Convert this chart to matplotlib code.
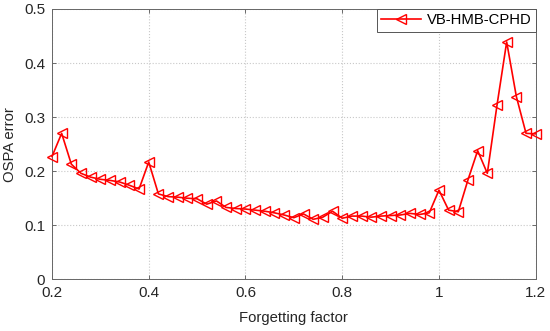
import matplotlib
matplotlib.use("Agg")
import matplotlib.pyplot as plt
import numpy as np

# Forgetting factor 0.20 ... 1.20, step 0.02
forgetting = np.round(np.arange(0.20, 1.2001, 0.02), 2)
ospa = [
    0.227, 0.270, 0.213, 0.196, 0.189, 0.185, 0.183, 0.180, 0.174, 0.167,
    0.217, 0.158, 0.153, 0.152, 0.150, 0.149, 0.139, 0.145, 0.133, 0.131,
    0.130, 0.128, 0.126, 0.123, 0.119, 0.114, 0.121, 0.111, 0.115, 0.126,
    0.113, 0.117, 0.117, 0.115, 0.117, 0.118, 0.119, 0.122, 0.120, 0.123,
    0.165, 0.128, 0.125, 0.184, 0.238, 0.196, 0.322, 0.439, 0.338, 0.270,
    0.269,
]
xticks = [0.2, 0.4, 0.6, 0.8, 1.0, 1.2]
xticklabels = ["0.2", "0.4", "0.6", "0.8", "1", "1.2"]
yticks = [0, 0.1, 0.2, 0.3, 0.4, 0.5]
yticklabels = ["0", "0.1", "0.2", "0.3", "0.4", "0.5"]

plt.rcParams["font.family"] = ["Liberation Sans", "DejaVu Sans"]

fig = plt.figure(figsize=(5.5, 3.31), dpi=100)
ax = fig.add_axes([0.0945, 0.156, 0.8795, 0.817])

ax.plot(forgetting, ospa, color="#ff0000", linewidth=1.2, marker="<",
        markersize=7.5, markerfacecolor="none", markeredgecolor="#ff0000",
        markeredgewidth=1.0, label="VB-HMB-CPHD", clip_on=False, zorder=3)

ax.set_xlim(0.2, 1.2)
ax.set_ylim(0, 0.5)
ax.set_xticks(xticks)
ax.set_xticklabels(xticklabels)
ax.set_yticks(yticks)
ax.set_yticklabels(yticklabels)
ax.set_xlabel("Forgetting factor", fontsize=10.7, labelpad=8, color="#262626")
ax.set_ylabel("OSPA error", fontsize=10.7, labelpad=5, color="#262626")

ax.grid(True, linestyle=":", color="#c8c8c8", linewidth=0.8)
ax.tick_params(direction="in", top=True, right=True, labelsize=11,
               length=3, width=0.6, color="#555555", labelcolor="#262626")
ax.tick_params(axis="x", pad=5)
ax.tick_params(axis="y", pad=5)
for sp in ax.spines.values():
    sp.set_color("#666666")
    sp.set_linewidth(0.7)

leg = ax.legend(loc="upper right", fontsize=10.7, fancybox=False,
                framealpha=1, borderaxespad=0, handlelength=2.7,
                borderpad=0.3, handletextpad=0.35)
leg.get_frame().set_edgecolor("#555555")
leg.get_frame().set_linewidth(0.7)

fig.savefig("out.png", dpi=100, facecolor="white")
